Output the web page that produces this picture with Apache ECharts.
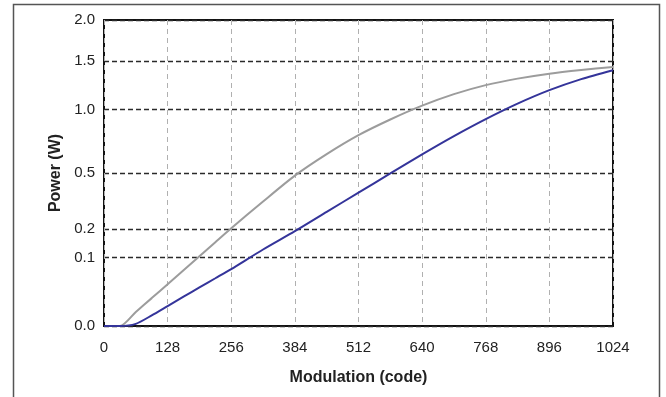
<!DOCTYPE html>
<html>
<head>
<meta charset="utf-8">
<script src="https://cdn.jsdelivr.net/npm/echarts@6/dist/echarts.min.js"></script>
<style>
html,body{margin:0;padding:0;background:#fff;}
#c{width:666px;height:397px;}
</style>
</head>
<body>
<div id="c"></div>
<script>
// Modulation codes (x)
var codes = [0, 32, 64, 96, 128, 160, 192, 224, 256, 320, 384, 448, 512, 576, 640, 704, 768, 832, 896, 960, 1024];
// Grey curve, power in W
var greyPower = [0, 0, 0.0042, 0.0166, 0.0374, 0.0665, 0.104, 0.150, 0.204, 0.331, 0.483, 0.631, 0.778, 0.911, 1.037, 1.148, 1.239, 1.307, 1.360, 1.400, 1.434];
// Blue curve, power in W
var bluePower = [0, 0, 0.0001, 0.0024, 0.0085, 0.0183, 0.0318, 0.0487, 0.0693, 0.125, 0.192, 0.278, 0.380, 0.497, 0.629, 0.770, 0.914, 1.056, 1.188, 1.302, 1.398];
// Y tick labels (power, W)
var yTicks = [0, 0.1, 0.2, 0.5, 1.0, 1.5, 2.0];
// X tick labels
var xMin = 0, xMax = 1024, xStep = 128;

// the y axis is drawn on a square-root scale
function fwd(v){ return Math.sqrt(v); }
function inv(t){ return t * t; }

function toSeries(vals){
  return codes.map(function(c, i){ return [c, fwd(vals[i])]; });
}
var yCustom = yTicks.map(fwd);

var chart = echarts.init(document.getElementById('c'), null, {renderer: 'canvas'});
var font = 'Liberation Sans, Arial, Helvetica, sans-serif';
chart.setOption({
  animation: false,
  backgroundColor: '#ffffff',
  graphic: [{
    type: 'rect',
    shape: {x: 13.5, y: 4.5, width: 646, height: 400},
    style: {fill: 'none', stroke: '#555', lineWidth: 1.5},
    silent: true, z: 100
  }],
  grid: {
    left: 104, right: 53, top: 20, bottom: 71,
    show: true, borderColor: '#111', borderWidth: 2, backgroundColor: 'transparent'
  },
  xAxis: {
    type: 'value', min: xMin, max: xMax, interval: xStep,
    name: 'Modulation (code)', nameLocation: 'middle', nameGap: 44,
    nameTextStyle: {fontFamily: font, fontWeight: 'bold', fontSize: 16, color: '#222'},
    axisLine: {show: false},
    axisTick: {show: false},
    axisLabel: {fontFamily: font, fontSize: 15, color: '#222', margin: 14,
      formatter: function(v){ return String(v); }},
    splitLine: {show: true, lineStyle: {color: '#b0b0b0', width: 1, type: [5, 4]}}
  },
  yAxis: {
    type: 'value', min: 0, max: fwd(2),
    name: 'Power (W)', nameLocation: 'middle', nameGap: 39, nameRotate: 90,
    nameTextStyle: {fontFamily: font, fontWeight: 'bold', fontSize: 16, color: '#222'},
    axisLine: {show: false},
    axisTick: {show: false, customValues: yCustom},
    axisLabel: {
      fontFamily: font, fontSize: 15, color: '#222', margin: 9,
      customValues: yCustom,
      formatter: function(v){ return inv(v).toFixed(1); }
    },
    splitLine: {show: true, lineStyle: {color: '#2a2a2a', width: 1.3, type: [5, 3]}}
  },
  series: [{
    type: 'line', name: 'grey', data: toSeries(greyPower),
    showSymbol: false, smooth: 0.25,
    lineStyle: {color: '#9c9c9c', width: 2}, z: 3
  }, {
    type: 'line', name: 'blue', data: toSeries(bluePower),
    showSymbol: false, smooth: 0.25,
    lineStyle: {color: '#34349a', width: 2}, z: 4
  }]
});
</script>
</body>
</html>
